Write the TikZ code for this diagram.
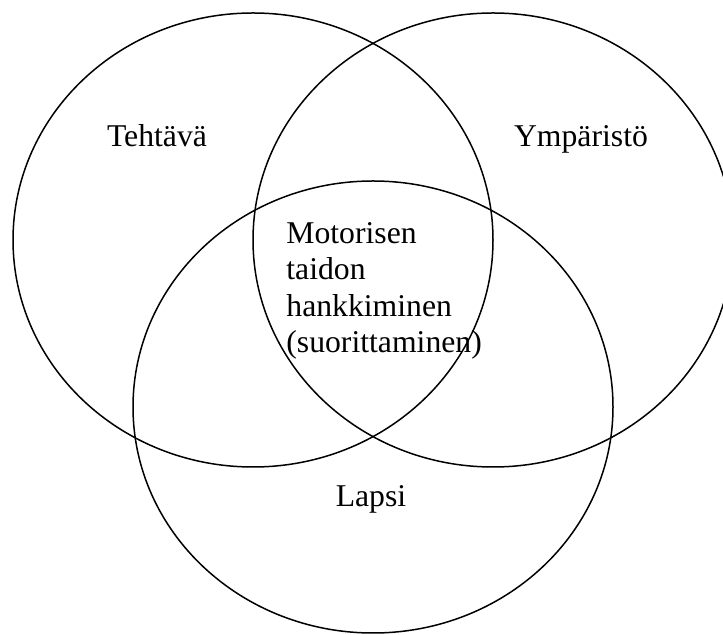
\documentclass[tikz,border=0pt]{standalone}
\usepackage{fontspec}
\setmainfont{Liberation Serif}
\begin{document}
\begin{tikzpicture}[x=0.5pt,y=-0.5pt,
	every node/.style={font=\fontsize{15.85}{18.25}\selectfont, inner sep=0pt},
	venn/.style={line width=0.75pt}]
	%\draw[help lines] (0,0) grid[step=50] (723,635);
	\useasboundingbox (0,0) rectangle (723,635);
	\draw [venn] (253,240) circle [x radius=240, y radius=227];
	\draw [venn] (493,240) circle [x radius=240, y radius=227];
	\draw [venn] (373,407) circle [x radius=240, y radius=226];
	\node (tehtava) [anchor=base] at (157,147) {Tehtävä};
	\node (ymparisto) [anchor=base] at (581,147) {Ympäristö};
	\node (lapsi) [anchor=base] at (371,507) {Lapsi};
	\node (taito) [anchor=base west, align=left] at (286,353)
		{Motorisen\\taidon\\hankkiminen\\(suorittaminen)};
\end{tikzpicture}
\end{document}
